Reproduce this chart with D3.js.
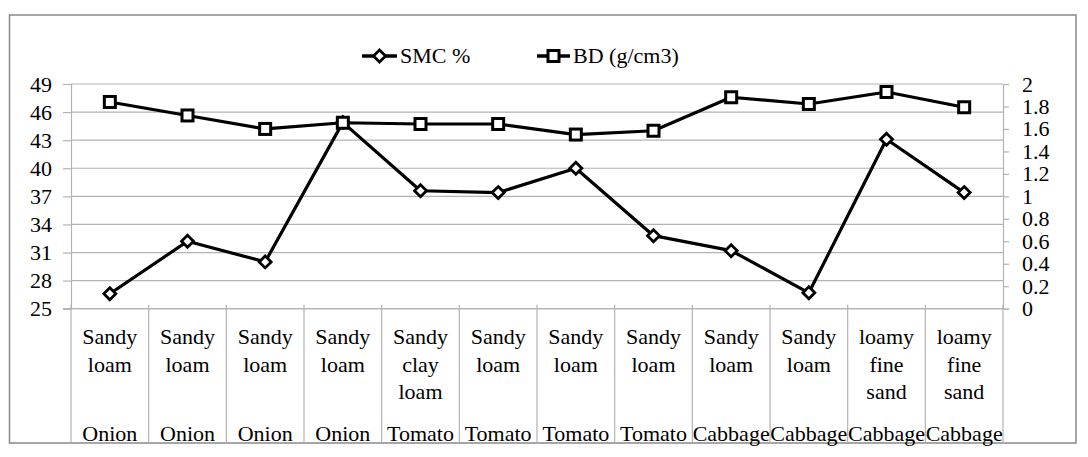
<!DOCTYPE html>
<html>
<head>
<meta charset="utf-8">
<script src="https://cdn.jsdelivr.net/npm/d3@7"></script>
<style>
  html, body { margin: 0; padding: 0; background: #ffffff; }
  svg { display: block; }
  text { font-family: "Liberation Serif", "Times New Roman", serif; fill: #000; }
</style>
</head>
<body>
<svg id="chart" width="1088" height="457"></svg>
<script>
// ---- data ----
const soils = ["Sandy loam", "Sandy loam", "Sandy loam", "Sandy loam", "Sandy clay loam", "Sandy loam",
               "Sandy loam", "Sandy loam", "Sandy loam", "Sandy loam", "loamy fine sand", "loamy fine sand"];
const crops = ["Onion", "Onion", "Onion", "Onion", "Tomato", "Tomato",
               "Tomato", "Tomato", "Cabbage", "Cabbage", "Cabbage", "Cabbage"];
const smc = [26.6, 32.2, 30.0, 44.9, 37.6, 37.4, 40.0, 32.8, 31.2, 26.7, 43.1, 37.4];
const bd  = [1.84, 1.72, 1.60, 1.655, 1.644, 1.644, 1.55, 1.584, 1.882, 1.822, 1.929, 1.793];
const leftTicks  = [25, 28, 31, 34, 37, 40, 43, 46, 49];
const rightTicks = [0, 0.2, 0.4, 0.6, 0.8, 1, 1.2, 1.4, 1.6, 1.8, 2];
const seriesNames = ["SMC %", "BD (g/cm3)"];

// ---- layout ----
const svg = d3.select("#chart");
const plotL = 71, plotR = 1003, plotT = 84, plotB = 308.7, bottom = 443;
const gridColor = "#b3b3b3";

// outer border
svg.append("rect")
  .attr("x", 9.5).attr("y", 15).attr("width", 1066.5).attr("height", 428)
  .attr("fill", "#fff").attr("stroke", "#888").attr("stroke-width", 1.5);

const x = d3.scaleBand().domain(d3.range(soils.length)).range([plotL, plotR]).padding(0);
const yL = d3.scaleLinear().domain([25, 49]).range([plotB, plotT]);
const yR = d3.scaleLinear().domain([0, 2]).range([plotB, plotT]);
const cx = i => x(i) + x.bandwidth() / 2;

// gridlines
svg.append("g").selectAll("line").data(leftTicks).join("line")
  .attr("x1", plotL).attr("x2", plotR)
  .attr("y1", d => yL(d)).attr("y2", d => yL(d))
  .attr("stroke", gridColor).attr("stroke-width", 1.2);

// left axis
const axL = svg.append("g").attr("transform", `translate(${plotL},0)`)
  .call(d3.axisLeft(yL).tickValues(leftTicks).tickSize(8).tickPadding(11).tickFormat(d3.format("d")));
axL.select(".domain").attr("stroke", gridColor).attr("stroke-width", 1.2);
axL.selectAll(".tick line").attr("stroke", gridColor).attr("stroke-width", 1.2);
axL.selectAll(".tick text").attr("font-size", 22).attr("font-family", '"Liberation Serif", serif');

// right axis
const axR = svg.append("g").attr("transform", `translate(${plotR},0)`)
  .call(d3.axisRight(yR).tickValues(rightTicks).tickSize(6).tickPadding(13).tickFormat(d => d3.format("")(+d.toFixed(1))));
axR.select(".domain").attr("stroke", gridColor).attr("stroke-width", 1.2);
axR.selectAll(".tick line").attr("stroke", gridColor).attr("stroke-width", 1.2);
axR.selectAll(".tick text").attr("font-size", 22).attr("font-family", '"Liberation Serif", serif');

// category separators
const bounds = d3.range(soils.length + 1).map(i => i < soils.length ? x(i) : plotR);
svg.append("g").selectAll("line").data(bounds).join("line")
  .attr("x1", d => d).attr("x2", d => d)
  .attr("y1", plotB - 4).attr("y2", bottom)
  .attr("stroke", gridColor).attr("stroke-width", 1.2);
// x axis baseline
svg.append("line").attr("x1", plotL - 8).attr("x2", plotR)
  .attr("y1", plotB).attr("y2", plotB)
  .attr("stroke", gridColor).attr("stroke-width", 1.2);

// category labels
const catG = svg.append("g");
soils.forEach((s, i) => {
  const t = catG.append("text").attr("text-anchor", "middle").attr("font-size", 22);
  s.split(" ").forEach((w, k) => {
    t.append("tspan").attr("x", cx(i)).attr("y", 344.3 + k * 27.4).text(w);
  });
  catG.append("text").attr("text-anchor", "middle").attr("font-size", 22)
    .attr("x", cx(i)).attr("y", 440.5).text(crops[i]);
});

// series lines
const lineL = d3.line().x((d, i) => cx(i)).y(d => yL(d));
const lineR = d3.line().x((d, i) => cx(i)).y(d => yR(d));
svg.append("path").datum(smc).attr("d", lineL)
  .attr("fill", "none").attr("stroke", "#000").attr("stroke-width", 3.2).attr("stroke-linejoin", "round");
svg.append("path").datum(bd).attr("d", lineR)
  .attr("fill", "none").attr("stroke", "#000").attr("stroke-width", 3.2).attr("stroke-linejoin", "round");

const diamond = (g, px, py) => g.append("path")
  .attr("d", `M${px},${py - 6}L${px + 6},${py}L${px},${py + 6}L${px - 6},${py}Z`)
  .attr("fill", "#fff").attr("stroke", "#000").attr("stroke-width", 2.8);
const square = (g, px, py) => g.append("rect")
  .attr("x", px - 5.5).attr("y", py - 5.5).attr("width", 11).attr("height", 11)
  .attr("fill", "#fff").attr("stroke", "#000").attr("stroke-width", 3);

const mk = svg.append("g");
smc.forEach((v, i) => diamond(mk, cx(i), yL(v)));
bd.forEach((v, i) => square(mk, cx(i), yR(v)));

// legend
const lg = svg.append("g");
const legendItems = [
  { name: seriesNames[0], x0: 362, x1: 397, tx: 400, m: diamond },
  { name: seriesNames[1], x0: 537, x1: 570, tx: 573, m: square }
];
legendItems.forEach(it => {
  lg.append("line").attr("x1", it.x0).attr("x2", it.x1).attr("y1", 56).attr("y2", 56)
    .attr("stroke", "#000").attr("stroke-width", 3.5);
  it.m(lg, (it.x0 + it.x1) / 2, 56);
  lg.append("text").attr("x", it.tx).attr("y", 63).attr("font-size", 22).text(it.name);
});
</script>
</body>
</html>
